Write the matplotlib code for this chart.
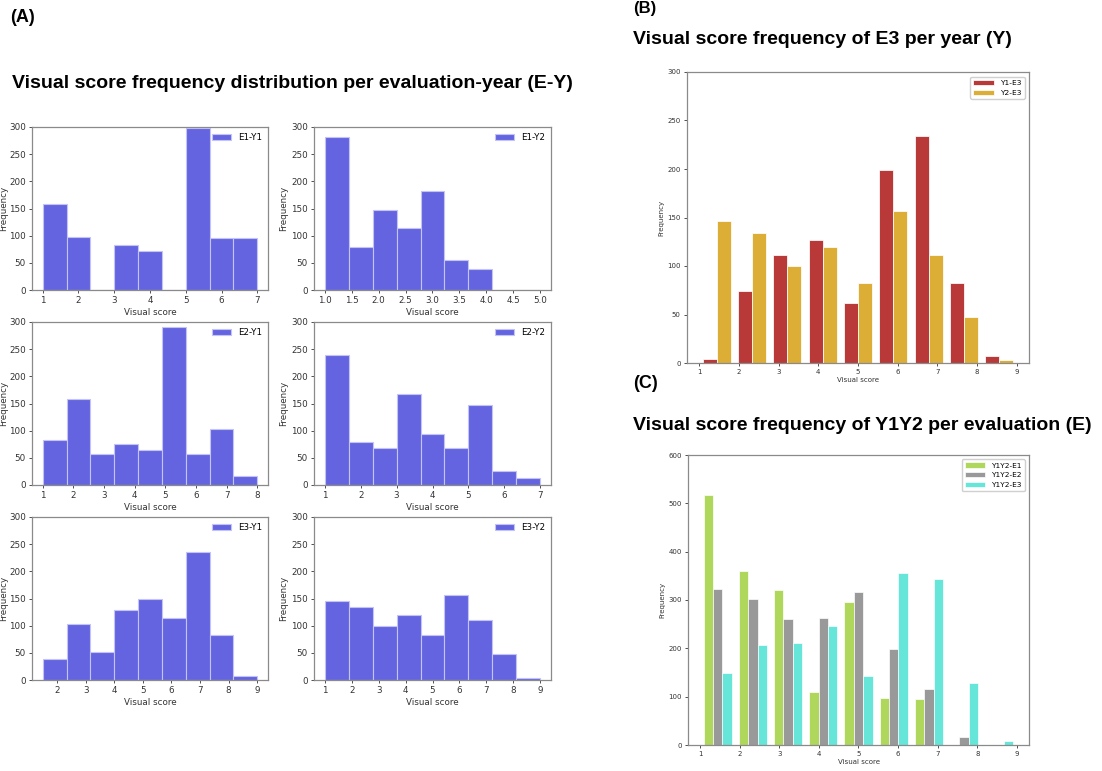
import numpy as np
import matplotlib
matplotlib.use("Agg")
import matplotlib.pyplot as plt

# ---- data -------------------------------------------------------------
# Panel A: per evaluation-year histograms (9 bins over each score range)
ey_labels = ["E1-Y1", "E1-Y2", "E2-Y1", "E2-Y2", "E3-Y1", "E3-Y2"]
ey_ranges = [(1, 7), (1, 5), (1, 8), (1, 7), (1.5, 9), (1, 9)]
ey_counts = [
    [158, 98, 0, 82, 72, 0, 298, 96, 96],
    [281, 79, 147, 114, 183, 55, 38, 0, 0],
    [83, 158, 57, 75, 64, 290, 57, 103, 17],
    [240, 79, 69, 167, 93, 68, 147, 25, 13],
    [38, 103, 51, 128, 149, 114, 236, 82, 8],
    [146, 134, 100, 120, 82, 157, 111, 47, 4],
]

# Panel B: E3 per year
b_labels = ["Y1-E3", "Y2-E3"]
b_y1 = [4, 74, 111, 127, 62, 199, 234, 82, 7]
b_y2 = [146, 134, 100, 120, 82, 157, 111, 47, 3]

# Panel C: Y1Y2 per evaluation
c_labels = ["Y1Y2-E1", "Y1Y2-E2", "Y1Y2-E3"]
c_e1 = [518, 360, 320, 110, 295, 97, 95, 0, 0]
c_e2 = [322, 303, 260, 262, 317, 198, 115, 16, 0]
c_e3 = [149, 207, 211, 247, 143, 355, 344, 128, 9]

score_range = (1, 9)
n_bins = 9

# ---- figure -----------------------------------------------------------
W, H = 1102, 771
fig = plt.figure(figsize=(W / 100, H / 100), dpi=100)


def rect(x0, y0, x1, y1):
    return [x0 / W, 1 - y1 / H, (x1 - x0) / W, (y1 - y0) / H]


spine_col = "#8a8a8a"
tick_col = "#333333"


def style_axes(ax, fs):
    for s in ax.spines.values():
        s.set_color(spine_col)
        s.set_linewidth(0.9)
    ax.tick_params(labelsize=fs, colors=tick_col, length=2.5, width=0.6,
                   labelcolor=tick_col, pad=2)


def hist_from_counts(ax, counts_list, lo, hi, **kw):
    edges = np.linspace(lo, hi, n_bins + 1)
    centers = (edges[:-1] + edges[1:]) / 2
    if isinstance(counts_list[0], (list, tuple)):
        xs = [centers] * len(counts_list)
    else:
        xs = centers
    return ax.hist(xs, bins=edges, weights=counts_list, **kw)


# Panel A grid
cols = [(32, 268), (314, 551)]
rows = [(127, 290), (322, 485), (517, 680)]
fsA = 6.3
for i, (lab, (lo, hi), cnt) in enumerate(zip(ey_labels, ey_ranges, ey_counts)):
    r, c = divmod(i, 2)
    ax = fig.add_axes(rect(cols[c][0], rows[r][0], cols[c][1], rows[r][1]))
    hist_from_counts(ax, cnt, lo, hi, color="#6464e0", edgecolor="#c4c4f4",
                     linewidth=0.8, label=lab)
    ax.set_ylim(0, 300)
    ax.set_yticks(np.arange(0, 301, 50))
    if lab == "E1-Y2":
        ax.set_xticks(np.arange(1.0, 5.01, 0.5))
    else:
        ax.set_xticks(np.arange(np.ceil(lo), hi + 0.01, 1))
    ax.set_xlabel("Visual score", fontsize=fsA, color=tick_col, labelpad=2)
    ax.set_ylabel("Frequency", fontsize=fsA, color=tick_col,
                  labelpad=0.5 if c == 0 else 2)
    style_axes(ax, fsA)
    ax.legend(loc="upper right", fontsize=fsA, frameon=False,
              handlelength=2.2, borderaxespad=0.3)

# Panel B
axB = fig.add_axes(rect(687, 72, 1029, 363))
hist_from_counts(axB, [b_y1, b_y2], *score_range,
                 color=["firebrick", "goldenrod"], alpha=0.9,
                 edgecolor="white", linewidth=0.6, label=b_labels)
axB.set_ylim(0, 300)
axB.set_xticks(np.arange(1, 10))
axB.set_yticks(np.arange(0, 301, 50))
axB.set_xlabel("Visual score", fontsize=5, color=tick_col, labelpad=1.5)
axB.set_ylabel("Frequency", fontsize=5, color=tick_col, labelpad=2)
style_axes(axB, 5)
axB.legend(loc="upper right", fontsize=5.4, handlelength=2.8,
           borderaxespad=0.6, framealpha=1, edgecolor="#d0d0d0")

# Panel C
axC = fig.add_axes(rect(688, 455, 1029, 745))
hist_from_counts(axC, [c_e1, c_e2, c_e3], *score_range,
                 color=["yellowgreen", "grey", "turquoise"], alpha=0.8,
                 edgecolor="white", linewidth=0.6, label=c_labels)
axC.set_ylim(0, 600)
axC.set_xticks(np.arange(1, 10))
axC.set_yticks(np.arange(0, 601, 100))
axC.set_xlabel("Visual score", fontsize=5, color=tick_col, labelpad=1.5)
axC.set_ylabel("Frequency", fontsize=5, color=tick_col, labelpad=2)
style_axes(axC, 5)
axC.legend(loc="upper right", fontsize=5.3, handlelength=2.8,
           borderaxespad=0.6, framealpha=1, edgecolor="#d0d0d0")

# Panel headings
tkw = dict(family="Liberation Sans", fontweight="bold", color="black")
fig.text(10 / W, 1 - 18 / H, "(A)", fontsize=13, va="center", **tkw)
fig.text(12 / W, 1 - 83 / H, "Visual score frequency distribution per evaluation-year (E-Y)",
         fontsize=14, va="center", **tkw)
fig.text(633 / W, 1 - 1 / H, "(B)", fontsize=12, va="top", **tkw)
fig.text(633 / W, 1 - 40 / H, "Visual score frequency of E3 per year (Y)",
         fontsize=14, va="center", **tkw)
fig.text(633 / W, 1 - 384 / H, "(C)", fontsize=13, va="center", **tkw)
fig.text(633 / W, 1 - 425 / H, "Visual score frequency of Y1Y2 per evaluation (E)",
         fontsize=14, va="center", **tkw)

fig.savefig("out.png", dpi=100)
